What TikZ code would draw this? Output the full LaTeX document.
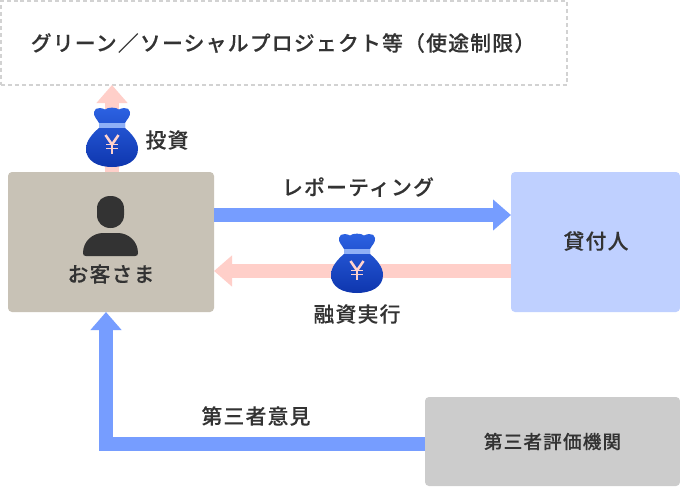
\documentclass[tikz,border=0pt]{standalone}
\usepackage{fontspec}
\setmainfont{Noto Sans CJK JP Medium}[LetterSpace=6,FakeBold=0.15]
\usetikzlibrary{arrows.meta}
\definecolor{txt}{HTML}{333333}
\definecolor{custc}{HTML}{C8C2B6}
\definecolor{lendc}{HTML}{BFD0FF}
\definecolor{evalc}{HTML}{CCCCCC}
\definecolor{dashc}{HTML}{D2D2D2}
\definecolor{bluec}{HTML}{769DFF}
\definecolor{pinkc}{HTML}{FFCFC9}
\definecolor{bagtop}{HTML}{2C62E2}
\definecolor{bagbot}{HTML}{0E36AE}
\definecolor{bandc}{HTML}{8FB0F6}
\definecolor{yenc}{HTML}{FFD2CC}
\tikzset{
  x=0.75pt,y=-0.75pt,
  box/.style={inner sep=0pt,outer sep=0pt,rounded corners=3pt,text=txt,font=\fontsize{15.6}{18}\selectfont},
  lab/.style={inner sep=0pt,text=txt,font=\fontsize{15.6}{18}\selectfont},
  bluearrow/.style={draw=bluec,line width=10.5pt,-{Triangle[length=13.5pt,width=22.5pt,fill=bluec]}},
  pinkarrow/.style={draw=pinkc,line width=10.5pt,-{Triangle[length=13.5pt,width=22.5pt,fill=pinkc]}},
  moneybag/.pic={
    \shade[top color=bagtop,bottom color=bagbot]
      (-13,16) .. controls (-15,12) and (-19,9) .. (-18,5)
      .. controls (-18,2) and (-15,1) .. (-12,1)
      .. controls (-10,1) and (-8.5,2) .. (-7,2.5)
      .. controls (-4,0) and (4,0) .. (7,2.5)
      .. controls (8.5,2) and (10,1) .. (12,1)
      .. controls (15,1) and (18,2) .. (18,5)
      .. controls (19,9) and (15,12) .. (13,16)
      -- (13,21) .. controls (20,27) and (26,34) .. (26,42)
      .. controls (26,54) and (14,60) .. (0,60)
      .. controls (-14,60) and (-26,54) .. (-26,42)
      .. controls (-26,34) and (-20,27) .. (-13,21) -- cycle;
    \fill[bandc] (-13,16) rectangle (13,20.5);
    \draw[yenc,line width=1.9pt] (-6.5,28) -- (0,37.5) -- (6.5,28);
    \draw[yenc,line width=1.9pt] (0,37.5) -- (0,46.5);
    \draw[yenc,line width=1.3pt] (-6,37.5) -- (6,37.5) (-6,41.5) -- (6,41.5);
  }
}
\begin{document}
\begin{tikzpicture}
\useasboundingbox (0,0) rectangle (680,486);
\fill[white] (0,0) rectangle (680,486);
\node[box,draw=dashc,line width=1.5pt,dash pattern=on 3pt off 2.2pt,rounded corners=0pt,minimum width=424.5pt,minimum height=63pt] (topbox) at (284,43) {};
\node[lab] (toplabel) at (283,43) {グリーン／ソーシャルプロジェクト等（使途制限）};
\node[box,fill=custc,minimum width=154.5pt,minimum height=105pt] (cust) at (111,242) {};
\node[box,fill=lendc,minimum width=126.75pt,minimum height=105pt] (lender) at (595.5,242) {};
\node[lab] (lenderlabel) at (596,241) {貸付人};
\node[box,fill=evalc,minimum width=191.25pt,minimum height=66.75pt,font=\fontsize{14}{16}\selectfont] (eval) at (552.5,441.5) {第三者評価機関};
% connectors
\draw[pinkarrow] ([xshift=.75pt]cust.north) -- ([xshift=.75pt]cust.north |- topbox.south);
\draw[bluearrow] ([yshift=20.25pt]cust.east) -- ([yshift=20.25pt]lender.west);
\draw[pinkarrow] ([yshift=-21.75pt]lender.west) -- ([yshift=-21.75pt]cust.east);
\draw[bluearrow] ([yshift=-1.9pt]eval.west) -| ([xshift=-3.75pt]cust.south);
% person
\fill[txt] (97,209) .. controls (97,200) and (103,196) .. (110.5,196) .. controls (118,196) and (124,200) .. (124,209) -- (124,215) .. controls (124,223) and (118,228) .. (110.5,228) .. controls (103,228) and (97,223) .. (97,215) -- cycle;
\fill[txt] (83,253) .. controls (83,241) and (93,233) .. (103,233) -- (118,233) .. controls (128,233) and (138,241) .. (138,253) .. controls (138,255) and (137,256) .. (135,256) -- (86,256) .. controls (84,256) and (83,255) .. (83,253) -- cycle;
\node[lab] (custlabel) at (111,274) {お客さま};
% bags
\pic at (112,107) {moneybag};
\pic at (357,233) {moneybag};
% labels
\node[lab] (invest) at (167,140) {投資};
\node[lab] (report) at (358,187) {レポーティング};
\node[lab] (loan) at (357,314) {融資実行};
\node[lab] (opinion) at (256,416) {第三者意見};
\end{tikzpicture}
\end{document}
